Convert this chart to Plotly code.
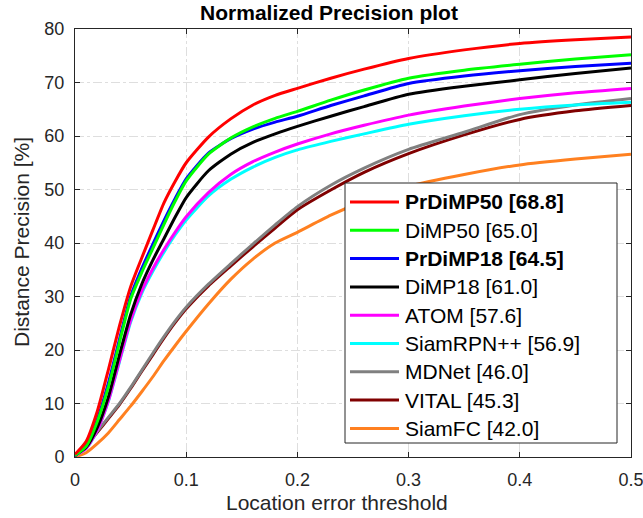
import plotly.graph_objects as go

thresholds = [0, 0.01, 0.02, 0.03, 0.04, 0.05, 0.06, 0.07, 0.08, 0.09, 0.10,
              0.12, 0.14, 0.16, 0.18, 0.20, 0.23, 0.26, 0.30, 0.35, 0.40, 0.45, 0.50]

prdimp50 = [0.5, 2.9, 8.5, 16.3, 24.5, 31.8, 37.2, 42.4, 47.5, 51.5, 55.0,
            59.8, 63.2, 65.8, 67.6, 68.9, 70.8, 72.5, 74.5, 76.1, 77.3, 78.0, 78.5]
dimp50 = [0.3, 2.0, 6.6, 13.1, 21.4, 29.5, 34.5, 39.0, 43.5, 47.8, 51.6,
          56.6, 59.6, 61.7, 63.3, 64.6, 66.7, 68.6, 70.8, 72.3, 73.4, 74.4, 75.2]
prdimp18 = [0.3, 2.2, 7.0, 13.8, 22.0, 30.0, 35.2, 39.8, 44.2, 48.3, 52.0,
            56.8, 59.5, 61.3, 62.6, 63.7, 65.7, 67.5, 69.8, 71.2, 72.2, 73.0, 73.6]
dimp18 = [0.3, 1.8, 5.5, 11.2, 19.1, 26.6, 32.3, 36.8, 40.8, 44.8, 48.5,
          53.5, 56.6, 58.8, 60.4, 61.8, 63.7, 65.5, 67.8, 69.3, 70.5, 71.7, 72.7]
atom = [0.3, 1.6, 5.0, 10.5, 18.0, 25.5, 31.0, 35.2, 38.8, 42.0, 44.9,
        49.4, 52.8, 55.2, 57.0, 58.5, 60.4, 62.0, 63.9, 65.6, 67.0, 68.1, 68.9]
siamrpn = [0.3, 1.6, 5.0, 10.4, 17.8, 25.2, 30.6, 34.7, 38.3, 41.5, 44.3,
           48.8, 51.9, 54.2, 56.0, 57.4, 59.0, 60.4, 62.2, 63.8, 65.0, 65.8, 66.3]
mdnet = [0.2, 2.3, 4.8, 7.4, 10.0, 13.0, 16.2, 19.4, 22.5, 25.4, 28.0,
         32.3, 36.1, 39.8, 43.4, 46.8, 50.8, 54.0, 57.5, 60.7, 64.0, 65.8, 67.0]
vital = [0.2, 2.1, 4.6, 7.2, 9.8, 12.8, 16.0, 19.1, 22.2, 25.1, 27.7,
         32.0, 35.7, 39.3, 42.8, 46.2, 49.9, 53.2, 56.7, 60.2, 63.1, 64.7, 65.7]
siamfc = [0.0, 0.8, 2.5, 4.5, 7.0, 9.5, 12.2, 15.0, 18.0, 20.8, 23.5,
          28.6, 33.2, 37.0, 40.0, 42.0, 45.2, 47.8, 50.6, 52.8, 54.6, 55.7, 56.6]

names = ["<b>PrDiMP50 [68.8]</b>", "DiMP50 [65.0]", "<b>PrDiMP18 [64.5]</b>", "DiMP18 [61.0]",
         "ATOM [57.6]", "SiamRPN++ [56.9]", "MDNet [46.0]", "VITAL [45.3]", "SiamFC [42.0]"]
series = [prdimp50, dimp50, prdimp18, dimp18, atom, siamrpn, mdnet, vital, siamfc]
colors = ["#ff0000", "#00ff00", "#0000ff", "#000000", "#ff00ff",
          "#00ffff", "#808080", "#800000", "#ff8020"]

fig = go.Figure()
# matlab drew them last-to-first, so the first legend entry sits on top
for name, vals, col in reversed(list(zip(names, series, colors))):
    fig.add_trace(go.Scatter(x=thresholds, y=vals, mode="lines", name=name,
                             line=dict(color=col, width=3, shape="spline", smoothing=0.6),
                             showlegend=False, hoverinfo="skip"))

axis_style = dict(showline=True, linecolor="#262626", linewidth=1, mirror="ticks",
                  ticks="inside", ticklen=5, tickcolor="#262626",
                  showgrid=True, gridcolor="#dedede", griddash="dashdot", gridwidth=1,
                  zeroline=False, automargin=False, ticklabeloverflow="allow",
                  tickfont=dict(size=18, color="#262626"))

# pixel helpers so the hand-made legend and titles line up with the axes box
plot_l, plot_r, plot_t, plot_b = 75, 631, 29, 457
def px(x):
    return (x - plot_l) / (plot_r - plot_l)
def py(y):
    return (plot_b - y) / (plot_b - plot_t)

shapes = [dict(type="rect", xref="paper", yref="paper",
               x0=px(345), x1=px(617), y0=py(443), y1=py(183),
               fillcolor="white", line=dict(color="#262626", width=1), layer="above")]
annotations = []
row0, row_gap = 202, 28.3
for i, (name, col) in enumerate(zip(names, colors)):
    yy = py(row0 + i * row_gap)
    shapes.append(dict(type="line", xref="paper", yref="paper",
                       x0=px(350), x1=px(399), y0=yy, y1=yy,
                       line=dict(color=col, width=3), layer="above"))
    annotations.append(dict(text=name, xref="paper", yref="paper", x=px(403), y=yy,
                            xanchor="left", yanchor="middle", showarrow=False,
                            font=dict(size=21, color="#000000")))

annotations.append(dict(text="Location error threshold", xref="paper", yref="paper",
                        x=px(337), y=py(502), xanchor="center", yanchor="middle",
                        showarrow=False, font=dict(size=21, color="#262626")))
annotations.append(dict(text="Distance Precision [%]", xref="paper", yref="paper",
                        x=px(21), y=py(242), xanchor="center", yanchor="middle",
                        textangle=-90, showarrow=False, font=dict(size=21, color="#262626")))

fig.update_layout(
    width=643, height=518,
    margin=dict(l=plot_l, r=643 - plot_r, t=plot_t, b=518 - plot_b),
    paper_bgcolor="white", plot_bgcolor="white",
    font=dict(family="Liberation Sans, Arial, sans-serif", color="#000000"),
    title=dict(text="<b>Normalized Precision plot</b>", x=329 / 643, xanchor="center",
               yref="container", y=1 - 13 / 518, yanchor="middle",
               font=dict(size=21, color="#000000")),
    xaxis=dict(range=[0, 0.5], tickvals=[0, 0.1, 0.2, 0.3, 0.4, 0.5],
               ticktext=["0", "0.1", "0.2", "0.3", "0.4", "0.5"],
               ticklabelstandoff=6, **axis_style),
    yaxis=dict(range=[0, 80], tickvals=list(range(0, 90, 10)),
               ticklabelstandoff=6, **axis_style),
    shapes=shapes,
    annotations=annotations,
    showlegend=False,
)

fig.write_html("out.html", config={"displayModeBar": False},
               post_script="document.body.style.margin='0';")
